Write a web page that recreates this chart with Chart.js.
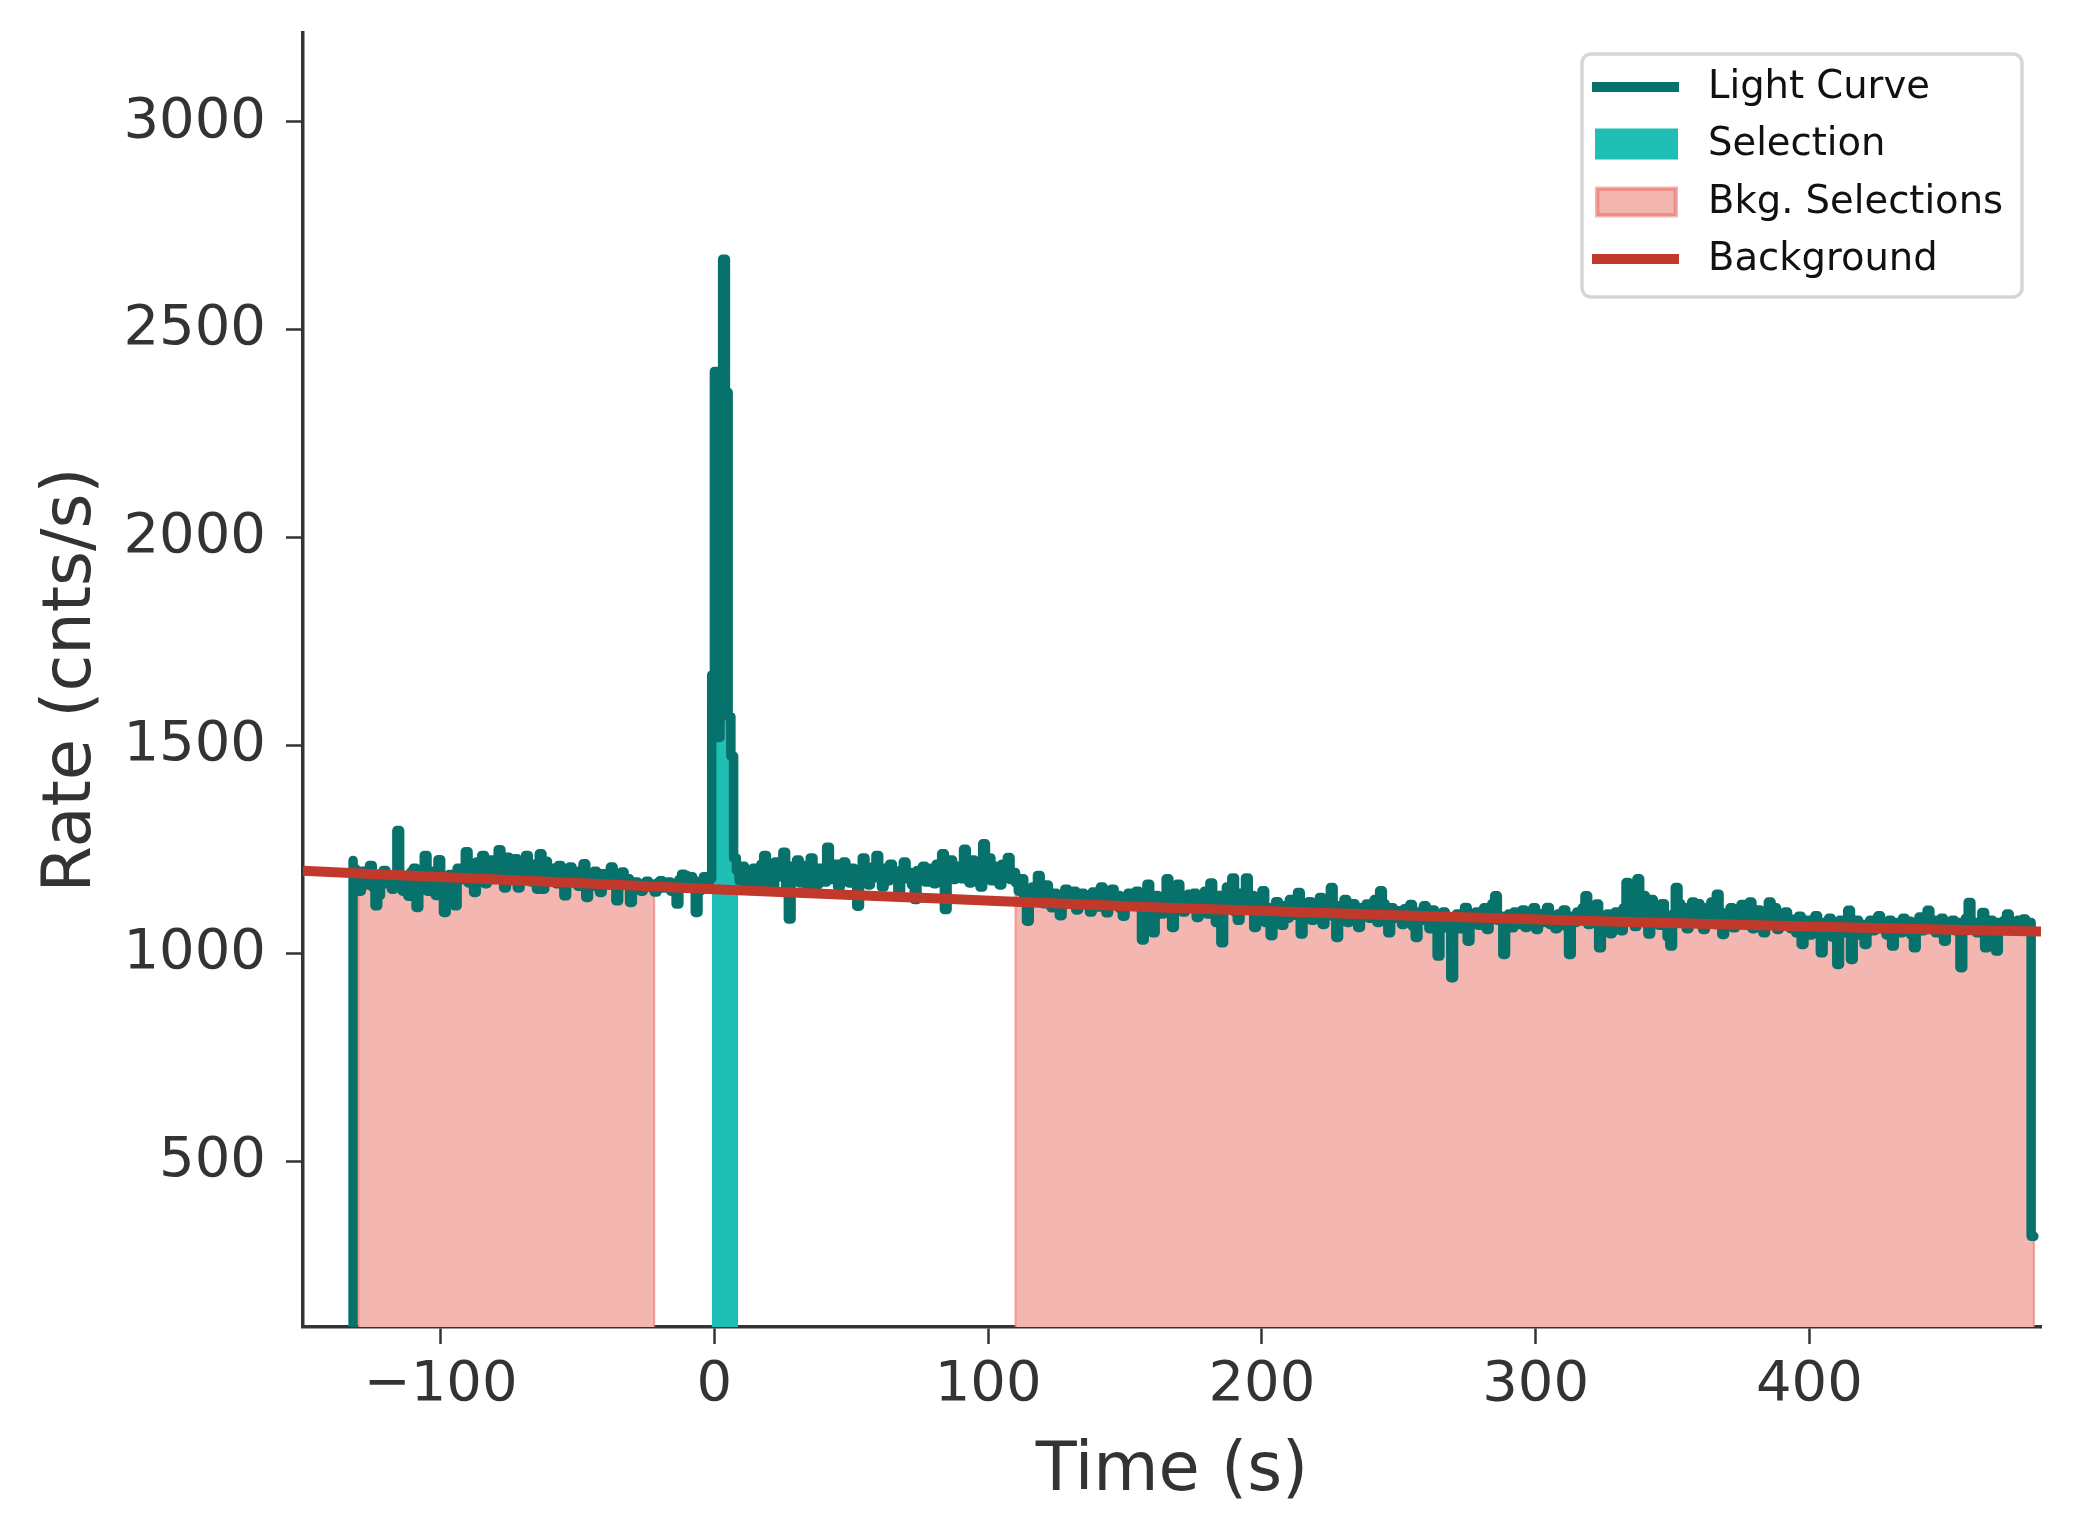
<!DOCTYPE html>
<html>
<head>
<meta charset="utf-8">
<script src="https://cdn.jsdelivr.net/npm/chart.js@4.4.1/dist/chart.umd.min.js"></script>
<style>
  html, body { margin: 0; padding: 0; background: #ffffff; }
  #wrap { width: 2074px; height: 1540px; }
</style>
</head>
<body>
<div id="wrap"><canvas id="lc" width="2074" height="1540"></canvas></div>
<script>
// light curve: 1 s bins, first full bin starts at lcStart
const lcStart = -132;
const lcFirstRate = 100;   // partial bin at the very start
const lcLastRate = 320;    // partial bin at the very end
const lcRate = [
  // -132 .. -23
  1224, 1204, 1180, 1150, 1198, 1165, 1190, 1212, 1160, 1115,
  1140, 1185, 1200, 1168, 1178, 1155, 1172, 1296, 1182, 1150,
  1172, 1138, 1196, 1205, 1111, 1168, 1182, 1236, 1150, 1198,
  1172, 1140, 1226, 1185, 1099, 1160, 1190, 1172, 1115, 1205,
  1178, 1196, 1245, 1170, 1185, 1147, 1220, 1180, 1236, 1168,
  1200, 1225, 1178, 1190, 1250, 1210, 1158, 1232, 1195, 1175,
  1228, 1158, 1210, 1185, 1236, 1200, 1172, 1215, 1155, 1240,
  1155, 1222, 1190, 1176, 1205, 1168, 1212, 1195, 1139, 1186,
  1208, 1175, 1190, 1162, 1200, 1216, 1135, 1185, 1170, 1198,
  1160, 1147, 1192, 1178, 1165, 1208, 1182, 1127, 1170, 1196,
  1166, 1180, 1123, 1158, 1172, 1165, 1150, 1168, 1174, 1160,
  // -22 .. -1
  1162, 1148, 1170, 1175, 1158, 1168, 1172, 1150, 1165, 1119,
  1178, 1191, 1188, 1160, 1185, 1176, 1099, 1150, 1165, 1185,
  1155, 1180,
  // 0 .. 9 (burst)
  1670, 2400, 1520, 2400, 2670, 2350, 1570, 1475, 1230, 1200,
  // 10 .. 109
  1175, 1210, 1165, 1190, 1158, 1205, 1180, 1150, 1215, 1236,
  1170, 1195, 1152, 1220, 1185, 1200, 1244, 1160, 1083, 1210,
  1185, 1225, 1170, 1198, 1212, 1150, 1230, 1180, 1165, 1205,
  1190, 1172, 1256, 1200, 1178, 1215, 1160, 1195, 1220, 1185,
  1170, 1205, 1190, 1114, 1185, 1230, 1200, 1165, 1180, 1210,
  1236, 1190, 1160, 1205, 1175, 1215, 1185, 1198, 1150, 1200,
  1220, 1180, 1195, 1165, 1130, 1200, 1185, 1210, 1172, 1190,
  1205, 1168, 1215, 1185, 1240, 1106, 1200, 1225, 1178, 1195,
  1210, 1180, 1251, 1195, 1170, 1225, 1190, 1205, 1160, 1264,
  1195, 1230, 1175, 1210, 1185, 1165, 1215, 1190, 1231, 1178,
  // 110 .. 158
  1195, 1170, 1150, 1180, 1135, 1078, 1140, 1160, 1125, 1188,
  1150, 1120, 1165, 1135, 1110, 1145, 1128, 1091, 1140, 1155,
  1120, 1138, 1150, 1105, 1130, 1145, 1118, 1135, 1100, 1148,
  1125, 1112, 1160, 1135, 1098, 1150, 1155, 1120, 1140, 1108,
  1090, 1130, 1145, 1115, 1138, 1150, 1120, 1033, 1128,
  // 159 .. 322
  1167, 1120, 1050, 1140, 1105, 1095, 1138, 1180, 1110, 1063,
  1125, 1167, 1140, 1100, 1132, 1143, 1120, 1145, 1087, 1130,
  1110, 1150, 1095, 1170, 1120, 1075, 1140, 1026, 1105, 1160,
  1130, 1182, 1100, 1080, 1145, 1125, 1182, 1110, 1140, 1063,
  1095, 1120, 1151, 1075, 1110, 1043, 1090, 1125, 1100, 1068,
  1115, 1085, 1130, 1105, 1092, 1147, 1047, 1118, 1098, 1125,
  1080, 1110, 1095, 1135, 1070, 1105, 1120, 1159, 1088, 1039,
  1115, 1095, 1130, 1075, 1105, 1120, 1090, 1063, 1110, 1098,
  1119, 1085, 1105, 1130, 1075, 1151, 1120, 1095, 1050, 1110,
  1085, 1098, 1103, 1070, 1108, 1090, 1118, 1065, 1039, 1100,
  1080, 1115, 1092, 1060, 1105, 1075, 994, 1088, 1100, 1062,
  1070, 942, 1085, 1095, 1060, 1080, 1111, 1030, 1090, 1075,
  1100, 1068, 1085, 1110, 1058, 1095, 1120, 1139, 1080, 1090,
  998, 1075, 1095, 1062, 1100, 1085, 1070, 1105, 1063, 1092,
  1080, 1110, 1058, 1090, 1075, 1098, 1111, 1070, 1088, 1060,
  1095, 1080, 1105, 1065, 998, 1090, 1075, 1100, 1082, 1110,
  1139, 1070, 1095, 1085,
  // 323 .. 481
  1119, 1014, 1080, 1062, 1095, 1048, 1070, 1100, 1085, 1055,
  1110, 1171, 1090, 1130, 1065, 1180, 1120, 1140, 1085, 1047,
  1130, 1075, 1105, 1068, 1120, 1090, 1040, 1018, 1095, 1159,
  1120, 1080, 1110, 1060, 1100, 1124, 1085, 1120, 1095, 1058,
  1110, 1090, 1124, 1070, 1143, 1100, 1046, 1095, 1078, 1110,
  1062, 1100, 1085, 1118, 1070, 1095, 1124, 1060, 1088, 1105,
  1075, 1050, 1098, 1124, 1080, 1110, 1058, 1090, 1072, 1100,
  1085, 1060, 1075, 1050, 1090, 1022, 1065, 1080, 1045, 1070,
  1091, 1055, 1002, 1075, 1060, 1085, 1040, 1068, 974, 1080,
  1050, 1075, 1104, 986, 1060, 1080, 1045, 1070, 1022, 1065,
  1080, 1055, 1075, 1091, 1060, 1070, 1045, 1080, 1018, 1065,
  1075, 1050, 1085, 1060, 1078, 1045, 1014, 1070, 1088, 1055,
  1075, 1104, 1060, 1080, 1050, 1068, 1085, 1030, 1070, 1060,
  1080, 1055, 1075, 966, 1065, 1085, 1123, 1060, 1075, 1050,
  1070, 1099, 1014, 1068, 1080, 1055, 1006, 1075, 1060, 1080,
  1095, 1065, 1078, 1055, 1080, 1068, 1083, 1070, 1075
];

// selections (s)
const selRange = [-1, 8.7];
const bkgRanges = [[-130, -22], [110, 482]];

// fitted background, read at a few times
const bgTime = [-150.3, -75, 0, 80, 160, 240, 320, 400, 484.6];
const bgRate = [1199, 1177, 1155, 1133, 1111.5, 1094, 1078.5, 1065, 1053];

// axes
const xMin = -150.3, xMax = 484.6;
const yMin = 102, yMax = 3214;
const xTicks = [-100, 0, 100, 200, 300, 400];
const yTicks = [500, 1000, 1500, 2000, 2500, 3000];

const legendLabels = ["Light Curve", "Selection", "Bkg. Selections", "Background"];

const cLight = "#07726b";
const cSel = "#20bfb6";
const cBkg = "#f4b6b1";
const cBkgEdge = "rgba(236,128,120,0.75)";
const cBack = "#c0392b";
const cAxis = "#333333";

// light curve points (step-post)
const lcPoints = [{ x: lcStart, y: lcFirstRate }];
lcRate.forEach((v, i) => lcPoints.push({ x: lcStart + i, y: v }));
lcPoints.push({ x: lcStart + lcRate.length, y: lcLastRate });

function rateAt(t) {
  let i = Math.floor(t - lcStart);
  i = Math.max(0, Math.min(lcRate.length - 1, i));
  return lcRate[i];
}

// closed step shape under the curve between t0 and t1
function stepSlice(t0, t1) {
  const pts = [{ x: t0, y: yMin }, { x: t0, y: rateAt(t0) }];
  let e = Math.floor(t0 - lcStart) + 1 + lcStart;
  for (; e < t1; e++) pts.push({ x: e, y: rateAt(e) });
  pts.push({ x: t1, y: rateAt(t1 - 0.001) });
  pts.push({ x: t1, y: yMin });
  return pts;
}

const bgPoints = bgTime.map((t, i) => ({ x: t, y: bgRate[i] }));

function minusFmt(v) {
  return v < 0 ? "\u2212" + Math.abs(v) : String(v);
}

Chart.defaults.font.family = "'DejaVu Sans'";
Chart.defaults.color = cAxis;

function roundRectPath(ctx, x, y, w, h, r) {
  ctx.beginPath();
  ctx.moveTo(x + r, y);
  ctx.lineTo(x + w - r, y);
  ctx.arcTo(x + w, y, x + w, y + r, r);
  ctx.lineTo(x + w, y + h - r);
  ctx.arcTo(x + w, y + h, x + w - r, y + h, r);
  ctx.lineTo(x + r, y + h);
  ctx.arcTo(x, y + h, x, y + h - r, r);
  ctx.lineTo(x, y + r);
  ctx.arcTo(x, y, x + r, y, r);
  ctx.closePath();
}

// legend box like the matplotlib one
const boxLegend = {
  id: "boxLegend",
  afterDraw(chart) {
    const ctx = chart.ctx;
    ctx.save();
    roundRectPath(ctx, 1582, 54, 440, 243, 9);
    ctx.fillStyle = "rgba(255,255,255,0.85)";
    ctx.fill();
    ctx.lineWidth = 3.5;
    ctx.strokeStyle = "#d6d6d6";
    ctx.stroke();

    const rows = [87, 144, 202, 259];
    // Light Curve
    ctx.lineCap = "butt";
    ctx.lineWidth = 10;
    ctx.strokeStyle = cLight;
    ctx.beginPath(); ctx.moveTo(1592, rows[0]); ctx.lineTo(1679, rows[0]); ctx.stroke();
    // Selection
    ctx.fillStyle = cSel;
    ctx.fillRect(1595, rows[1] - 15.5, 83, 31);
    // Bkg. Selections
    ctx.fillStyle = cBkg;
    ctx.fillRect(1595, rows[2] - 15.5, 83, 31);
    ctx.lineWidth = 3;
    ctx.strokeStyle = cBkgEdge;
    ctx.strokeRect(1598, rows[2] - 12.5, 77, 25);
    // Background
    ctx.lineWidth = 10;
    ctx.strokeStyle = cBack;
    ctx.beginPath(); ctx.moveTo(1592, rows[3]); ctx.lineTo(1679, rows[3]); ctx.stroke();

    ctx.fillStyle = "#111111";
    ctx.font = "38.5px 'DejaVu Sans'";
    ctx.textBaseline = "middle";
    ctx.textAlign = "left";
    legendLabels.forEach((lab, i) => ctx.fillText(lab, 1708, rows[i] + 1));
    ctx.restore();
  }
};

new Chart(document.getElementById("lc"), {
  type: "line",
  data: {
    datasets: [
      {
        label: "Background",
        data: bgPoints,
        borderColor: cBack,
        borderWidth: 10,
        pointRadius: 0,
        tension: 0.4,
        cubicInterpolationMode: "monotone",
        fill: false,
      },
      {
        label: "Light Curve",
        data: lcPoints,
        borderColor: cLight,
        borderWidth: 9.5,
        borderCapStyle: "round",
        borderJoinStyle: "round",
        pointRadius: 0,
        stepped: "after",
        fill: false,
      },
      {
        label: "Selection",
        data: stepSlice(selRange[0], selRange[1]),
        borderWidth: 0,
        borderColor: cSel,
        backgroundColor: cSel,
        pointRadius: 0,
        stepped: "after",
        fill: "start",
      },
      {
        label: "Bkg. Selections",
        data: stepSlice(bkgRanges[0][0], bkgRanges[0][1]),
        borderWidth: 2,
        borderColor: cBkgEdge,
        backgroundColor: cBkg,
        pointRadius: 0,
        stepped: "after",
        fill: "start",
      },
      {
        label: "Bkg. Selections 2",
        data: stepSlice(bkgRanges[1][0], bkgRanges[1][1]),
        borderWidth: 2,
        borderColor: cBkgEdge,
        backgroundColor: cBkg,
        pointRadius: 0,
        stepped: "after",
        fill: "start",
      },
    ],
  },
  options: {
    responsive: false,
    animation: false,
    events: [],
    layout: { padding: { left: 0, right: 33, top: 33, bottom: 0 } },
    plugins: {
      legend: { display: false },
      tooltip: { enabled: false },
    },
    scales: {
      x: {
        type: "linear",
        min: xMin,
        max: xMax,
        afterBuildTicks: (s) => { s.ticks = xTicks.map((v) => ({ value: v })); },
        afterFit: (s) => { s.height = 213; s.paddingLeft = 0; s.paddingRight = 0; },
        grid: { drawOnChartArea: false, drawTicks: true, tickLength: 17, tickWidth: 2.5, tickColor: cAxis },
        border: { display: true, color: cAxis, width: 3.5 },
        ticks: {
          padding: 8,
          color: cAxis,
          font: { size: 56 },
          maxRotation: 0,
          callback: (v) => minusFmt(v),
        },
        title: {
          display: true,
          text: "Time (s)",
          color: cAxis,
          font: { size: 67 },
          padding: { top: 0, bottom: 27 },
        },
      },
      y: {
        type: "linear",
        min: yMin,
        max: yMax,
        afterBuildTicks: (s) => { s.ticks = yTicks.map((v) => ({ value: v })); },
        afterFit: (s) => { s.width = 303; s.paddingTop = 0; s.paddingBottom = 0; },
        grid: { drawOnChartArea: false, drawTicks: true, tickLength: 17, tickWidth: 2.5, tickColor: cAxis },
        border: { display: true, color: cAxis, width: 3.5 },
        ticks: {
          padding: 20,
          color: cAxis,
          font: { size: 56 },
          callback: (v) => String(v),
        },
        title: {
          display: true,
          text: "Rate (cnts/s)",
          color: cAxis,
          font: { size: 67 },
          padding: { top: 32, bottom: 0 },
        },
      },
    },
  },
  plugins: [boxLegend],
});
</script>
</body>
</html>
